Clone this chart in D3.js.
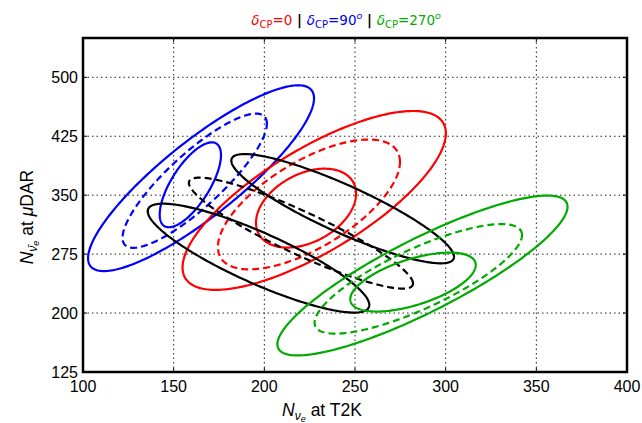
<!DOCTYPE html>
<html><head><meta charset="utf-8">
<script src="https://cdn.jsdelivr.net/npm/d3@7"></script>
<style>body{margin:0;background:#fff}svg{display:block}</style>
</head><body>
<svg id="c" width="642" height="423"></svg>
<script>
// ---- data ----
const xTicks = [100,150,200,250,300,350,400];
const yTicks = [125,200,275,350,425,500];
const xDomain = [100,400];
const yDomain = [125,550];
// ellipses: case, line type, centre, half-extents (x,y), correlation
const ellCase = ["90","90","90","0","0","0","bk","bk","bk","270","270","270"];
const ellLine = ["solid","dashed","solid","solid","dashed","solid","solid","solid","dashed","solid","dashed","solid"];
const ellCx  = [165.1,161.6,159.2, 227.5,224.6,223.0, 243.2,196.8,220.2, 287.2,284.9,282.0];
const ellCy  = [371.6,368.4,363.2, 343.3,338.2,333.5, 332.8,269.9,301.7, 247.8,243.5,239.4];
const ellSx  = [62.3,39.8,16.9, 72.6,50.2,27.6, 61.4,61.1,61.8, 80.0,57.2,34.6];
const ellSy  = [118.2,85.4,54.0, 113.8,82.6,50.2, 69.5,69.3,70.6, 101.7,69.7,37.5];
const ellRho = [0.86,0.85,0.70, 0.75,0.655,0.37, -0.88,-0.86,-0.906, 0.86,0.80,0.58];
const titleCases = ["0","90","270"];
const titleValues = ["0","90","270"];
const titleDegree = ["","o","o"];

// ---- styles ----
const caseColor = {"0":"#ff0000","90":"#0000ff","270":"#00aa00","bk":"#000000"};
const lineDash = {"solid":null,"dashed":"7,4"};

const svg = d3.select("#c");
const L=83,R=627,T=38,B=372;
const x = d3.scaleLinear().domain(xDomain).range([L,R]);
const y = d3.scaleLinear().domain(yDomain).range([B,T]);

// grid
const g = svg.append("g");
g.selectAll(".gx").data(xTicks.slice(1,-1)).enter().append("line")
  .attr("x1",d=>x(d)).attr("x2",d=>x(d)).attr("y1",T).attr("y2",B)
  .attr("stroke","#222").attr("stroke-width",1).attr("stroke-dasharray","1.5,3");
g.selectAll(".gy").data(yTicks.slice(1)).enter().append("line")
  .attr("y1",d=>y(d)).attr("y2",d=>y(d)).attr("x1",L).attr("x2",R)
  .attr("stroke","#222").attr("stroke-width",1).attr("stroke-dasharray","1.5,3");

// ellipses
const idx = d3.range(ellCx.length);
const N = 240;
const line = d3.line().x(p=>x(p[0])).y(p=>y(p[1])).curve(d3.curveLinearClosed);
const plot = svg.append("g");
plot.selectAll("path").data(idx).enter().append("path")
  .attr("d", i => {
    const pts = d3.range(N).map(k=>{
      const t = 2*Math.PI*k/N;
      const r = ellRho[i];
      return [ellCx[i] + ellSx[i]*Math.cos(t),
              ellCy[i] + ellSy[i]*(r*Math.cos(t) + Math.sqrt(1-r*r)*Math.sin(t))];
    });
    return line(pts);
  })
  .attr("fill","none")
  .attr("stroke", i=>caseColor[ellCase[i]])
  .attr("stroke-width",2.2)
  .attr("stroke-dasharray", i=>lineDash[ellLine[i]]);

// ticks inward on all sides
const tk = svg.append("g").attr("stroke","#000").attr("stroke-width",1);
xTicks.slice(1,-1).forEach(v=>{
  tk.append("line").attr("x1",x(v)).attr("x2",x(v)).attr("y1",B).attr("y2",B-4);
  tk.append("line").attr("x1",x(v)).attr("x2",x(v)).attr("y1",T).attr("y2",T+4);
});
yTicks.slice(1).forEach(v=>{
  tk.append("line").attr("y1",y(v)).attr("y2",y(v)).attr("x1",L).attr("x2",L+4);
  tk.append("line").attr("y1",y(v)).attr("y2",y(v)).attr("x1",R).attr("x2",R-4);
});

// frame
svg.append("rect").attr("x",L).attr("y",T).attr("width",R-L).attr("height",B-T)
  .attr("fill","none").attr("stroke","#000").attr("stroke-width",2.5);

const font = "'Liberation Sans', Arial, sans-serif";
// tick labels
svg.append("g").selectAll("text").data(xTicks).enter().append("text")
  .attr("x",d=>x(d)).attr("y",392).attr("text-anchor","middle")
  .attr("font-family",font).attr("font-size",16).text(d=>d);
svg.append("g").selectAll("text").data(yTicks).enter().append("text")
  .attr("x",78).attr("y",d=>y(d)+6).attr("text-anchor","end")
  .attr("font-family",font).attr("font-size",16).text(d=>d);

// x label
const xl = svg.append("text").attr("x",322).attr("y",416).attr("text-anchor","middle")
  .attr("font-family",font).attr("font-size",17.5);
xl.append("tspan").attr("font-style","italic").text("N");
xl.append("tspan").attr("font-style","italic").attr("font-size",12).attr("dy",4).text("ν");
xl.append("tspan").attr("font-style","italic").attr("font-size",9).attr("dy",2).text("e");
xl.append("tspan").attr("dy",-6).text(" at T2K");

// y label
const yl = svg.append("text").attr("transform","translate(33,217) rotate(-90)")
  .attr("text-anchor","middle").attr("font-family",font).attr("font-size",17.5);
yl.append("tspan").attr("font-style","italic").text("N");
yl.append("tspan").attr("font-style","italic").attr("font-size",12).attr("dy",4).text("ν\u0304");
yl.append("tspan").attr("font-style","italic").attr("font-size",9).attr("dy",2).text("e");
yl.append("tspan").attr("dy",-6).text(" at ");
yl.append("tspan").attr("font-style","italic").text("μ");
yl.append("tspan").text("DAR");

// title
const tfont = "'DejaVu Sans', sans-serif";
const title = svg.append("text").attr("x",346).attr("y",25).attr("text-anchor","middle")
  .attr("font-family",tfont).attr("font-size",13.5);
let carry = 0;
titleCases.forEach((c0,k)=>{
  if(k>0){
    title.append("tspan").attr("fill","#000").attr("font-weight","bold").attr("dy",carry).text(" | ");
    carry = 0;
  }
  const c = caseColor[c0];
  title.append("tspan").attr("fill",c).attr("font-style","italic").attr("dy",carry).text("δ");
  title.append("tspan").attr("fill",c).attr("font-size",10).attr("dy",3).text("CP");
  title.append("tspan").attr("fill",c).attr("dy",-3).text("="+titleValues[k]);
  if(titleDegree[k]){
    title.append("tspan").attr("fill",c).attr("font-size",9.5).attr("font-style","italic").attr("dy",-6).text(titleDegree[k]);
    carry = 6;
  }
});
</script>
</body></html>
